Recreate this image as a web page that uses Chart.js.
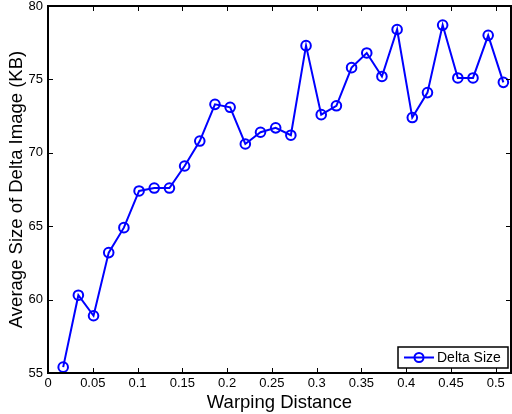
<!DOCTYPE html>
<html>
<head>
<meta charset="utf-8">
<script src="https://cdn.jsdelivr.net/npm/chart.js@4.4.1/dist/chart.umd.min.js"></script>
<style>
  html, body { margin: 0; padding: 0; background: #fff; }
  #wrap { width: 512px; height: 414px; }
</style>
</head>
<body>
<div id="wrap"><canvas id="grafico"></canvas></div>
<script>
// valores
const distancias = [1/59, 2/59, 3/59, 4/59, 5/59, 6/59, 7/59, 8/59, 9/59, 10/59,
  11/59, 12/59, 13/59, 14/59, 15/59, 16/59, 17/59, 18/59, 19/59, 20/59,
  21/59, 22/59, 23/59, 24/59, 25/59, 26/59, 27/59, 28/59, 29/59, 30/59];
const tamanhoDelta = [55.4, 60.3, 58.9, 63.2, 64.9, 67.4, 67.6, 67.6, 69.1, 70.8,
  73.3, 73.1, 70.6, 71.4, 71.7, 71.2, 77.3, 72.6, 73.2, 75.8,
  76.8, 75.2, 78.4, 72.4, 74.1, 78.7, 75.1, 75.1, 78.0, 74.8];
const ticksX = [0, 0.05, 0.1, 0.15, 0.2, 0.25, 0.3, 0.35, 0.4, 0.45, 0.5];
const ticksY = [55, 60, 65, 70, 75, 80];

const fonte = 'Liberation Sans, Arial, Helvetica, sans-serif';
const azul = '#0000ff';

// caixa + ticks para dentro, estilo matlab
const molduraPlugin = {
  id: 'moldura',
  afterDraw(chart) {
    const ctx = chart.ctx;
    const a = chart.chartArea;
    const sx = chart.scales.x;
    const sy = chart.scales.y;
    const tam = 5;
    ctx.save();
    ctx.strokeStyle = '#000';
    ctx.lineWidth = 1;
    ctx.beginPath();
    ticksX.forEach(v => {
      const px = Math.round(sx.getPixelForValue(v)) + 0.5;
      ctx.moveTo(px, a.bottom); ctx.lineTo(px, a.bottom - tam);
      ctx.moveTo(px, a.top); ctx.lineTo(px, a.top + tam);
    });
    ticksY.forEach(v => {
      const py = Math.round(sy.getPixelForValue(v)) + 0.5;
      ctx.moveTo(a.left, py); ctx.lineTo(a.left + tam, py);
      ctx.moveTo(a.right, py); ctx.lineTo(a.right - tam, py);
    });
    ctx.stroke();
    ctx.lineWidth = 2;
    ctx.strokeRect(a.left, a.top, a.right - a.left, a.bottom - a.top);

    // legenda
    const ds = chart.data.datasets[0];
    const lx = 398, ly = 347, lw = 110, lh = 21;
    ctx.fillStyle = '#fff';
    ctx.fillRect(lx, ly, lw, lh);
    ctx.lineWidth = 1.5;
    ctx.strokeStyle = '#000';
    ctx.strokeRect(lx, ly, lw, lh);
    ctx.strokeStyle = azul;
    ctx.lineWidth = 2;
    ctx.beginPath();
    ctx.moveTo(lx + 6, ly + lh / 2); ctx.lineTo(lx + 36, ly + lh / 2);
    ctx.stroke();
    ctx.beginPath();
    ctx.arc(lx + 21, ly + lh / 2, 4.5, 0, Math.PI * 2);
    ctx.stroke();
    ctx.fillStyle = '#000';
    ctx.font = '14px ' + fonte;
    ctx.textBaseline = 'middle';
    ctx.fillText(ds.label, lx + 39, ly + lh / 2 + 1);
    ctx.restore();
  }
};

function desenharGrafico() {
  const ctx = document.getElementById('grafico').getContext('2d');

  const pontos = distancias.map((d, i) => ({ x: d, y: tamanhoDelta[i] }));

  new Chart(ctx, {
    type: 'scatter',
    data: {
      datasets: [{
        label: 'Delta Size',
        data: pontos,
        showLine: true,
        borderColor: azul,
        borderWidth: 2,
        backgroundColor: 'transparent',
        pointRadius: 4.8,
        pointBorderWidth: 2,
        pointBorderColor: azul,
        pointBackgroundColor: 'transparent',
        clip: false
      }]
    },
    options: {
      responsive: true,
      maintainAspectRatio: false,
      animation: false,
      layout: { autoPadding: false, padding: { top: 6, right: 1, left: 0, bottom: 0 } },
      plugins: {
        legend: { display: false },
        tooltip: { enabled: false }
      },
      scales: {
        x: {
          type: 'linear',
          min: 0,
          max: 0.517,
          afterBuildTicks: (s) => { s.ticks = ticksX.map(v => ({ value: v })); },
          afterFit: (s) => { s.height = 41; s.paddingLeft = 0; s.paddingRight = 0; },
          grid: { display: false, drawTicks: false },
          border: { display: false },
          ticks: {
            color: '#000',
            font: { family: fonte, size: 13 },
            padding: 3,
            maxRotation: 0,
            callback: (v) => String(v)
          },
          title: {
            display: true,
            text: 'Warping Distance',
            color: '#000',
            font: { family: fonte, size: 18.5 },
            padding: { top: 0, bottom: 0 }
          }
        },
        y: {
          min: 55,
          max: 80,
          afterBuildTicks: (s) => { s.ticks = ticksY.map(v => ({ value: v })); },
          afterFit: (s) => { s.width = 48; s.paddingTop = 0; s.paddingBottom = 0; },
          grid: { display: false, drawTicks: false },
          border: { display: false },
          ticks: {
            color: '#000',
            font: { family: fonte, size: 13 },
            padding: 5
          },
          title: {
            display: true,
            text: 'Average Size of Delta Image (KB)',
            color: '#000',
            font: { family: fonte, size: 18.5 },
            padding: { top: 6, bottom: 0 }
          }
        }
      }
    },
    plugins: [molduraPlugin]
  });
}

window.onload = () => {
  desenharGrafico();
};
</script>
</body>
</html>
